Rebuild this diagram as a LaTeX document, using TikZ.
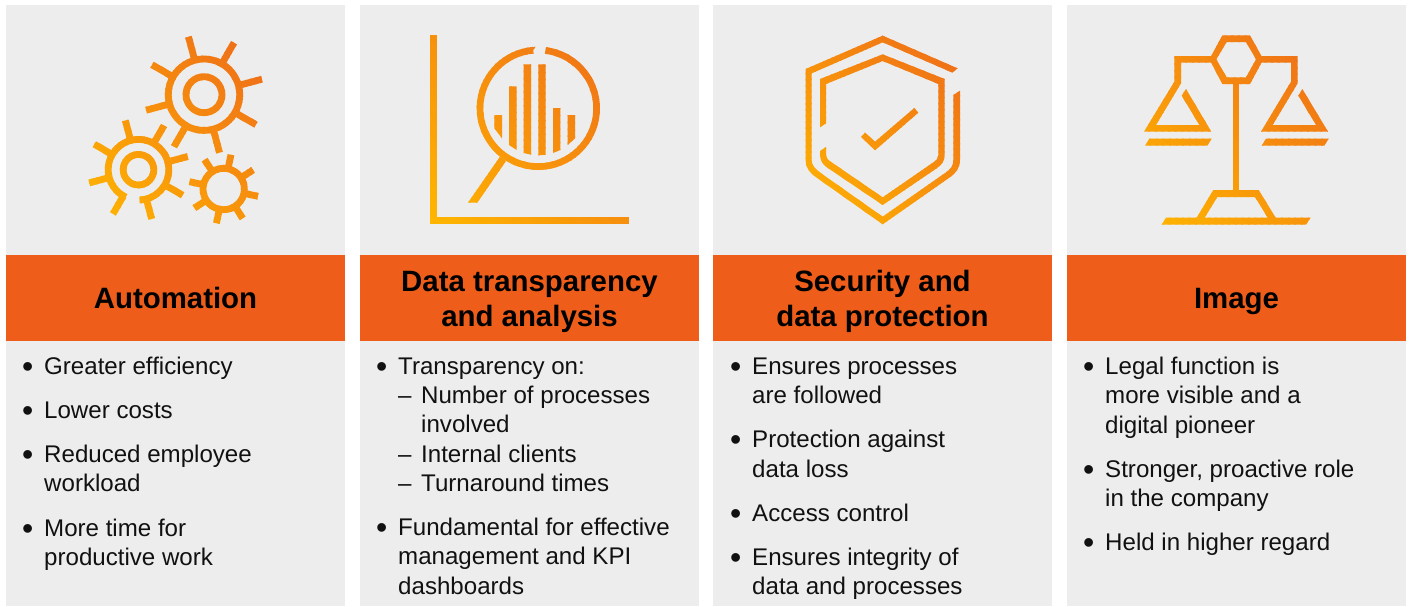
\documentclass[tikz,border=0pt]{standalone}
\usepackage{fontspec}
\setmainfont{Liberation Sans}
\definecolor{panelgray}{HTML}{EDEDED}
\definecolor{headorange}{HTML}{EE5E1A}
\definecolor{gradStart}{HTML}{FFB600}
\definecolor{gradEnd}{HTML}{EE6A1A}
\definecolor{inktext}{HTML}{111111}
\newcommand\nstrip{56}
\newcommand\gradicon[5]{%
 \foreach \k in {0,...,\nstrip}{%
  \pgfmathsetmacro\cW{(#3-#1+#4-#2)/(\nstrip+1)}%
  \pgfmathsetmacro\cA{#1-#4+\k*\cW}%
  \pgfmathsetmacro\cB{\cA+\cW+1.5}%
  \pgfmathsetmacro\pct{100*\k/\nstrip}%
  \colorlet{gradcol}{gradEnd!\pct!gradStart}%
  \begin{scope}
   \clip ({\cA+#2-20},{#2-20}) -- ({\cB+#2-20},{#2-20}) -- ({\cB+#4+20},{#4+20}) -- ({\cA+#4+20},{#4+20}) -- cycle;
   #5
  \end{scope}
 }%
}
\newcommand\gearb[7]{% cx cy ringR arcStart arcEnd tipR firstAngle
 \begin{scope}[shift={(#1,#2)},y=1pt]
  \draw[iconline] (#4:#3 pt) arc[start angle=#4,end angle=#5,radius=#3 pt];
  \foreach \a in {0,...,7}{%
   \pgfmathsetmacro\ang{#7+45*\a}%
   \draw[iconline] (\ang:#3 pt) -- (\ang:#6 pt);
  }%
 \end{scope}%
}
\newcommand\iconGears{%
 \gearb{204}{94.7}{35.7}{33}{420}{60}{15}
 \draw[iconline,shift={(204,94.7)}] (0,0) circle[radius=18pt];
 \gearb{138.5}{169.7}{30.3}{-88}{245}{51}{15}
 \draw[iconline,shift={(138.5,169.7)}] (0,0) circle[radius=15.3pt];
 \gearb{223.7}{189}{20.7}{0}{360}{35}{33}
}
\newcommand\iconChart{%
 \draw[iconline,line width=7pt] (433,35) -- (433,220.8) -- (629,220.8);
 \begin{scope}[shift={(538.3,108.3)},y=1pt]
  \draw[iconline,line width=6.7pt] (83:58.3pt) arc[start angle=83,end angle=-265,radius=58.3pt];
 \end{scope}
 \begin{scope}[shift={(420,25)},scale=1/3]
  \fill[gradcol] (347,65) -- (330,88) -- (320,70) -- cycle;
  \fill[gradcol] (144,533) -- (172,533) -- (258,408) -- (240,395) -- cycle;
  \fill[gradcol] (223,270) -- (246,270) -- (246,340) -- (223,310) -- cycle;
  \fill[gradcol] (267,184) -- (290,184) -- (290,375) -- (267,360) -- cycle;
  \fill[gradcol] (311,118) -- (333,118) -- (333,389) -- (311,384) -- cycle;
  \fill[gradcol] (355,118) -- (377,118) -- (377,389) -- (355,391) -- cycle;
  \fill[gradcol] (399,249) -- (421,249) -- (421,375) -- (399,384) -- cycle;
  \fill[gradcol] (443,270) -- (465,270) -- (465,340) -- (443,360) -- cycle;
 \end{scope}
}
\newcommand\iconShield{%
 \begin{scope}[shift={(790,25)},scale=1/3]
  \fill[gradcol] (503,130) -- (278,32) -- (47,132) -- (47,405) .. controls (47,430) and (60,445) .. (80,458) -- (278,598) -- (478,458) .. controls (497,445) and (510,430) .. (510,405) -- (510,197) -- (490,210) -- (490,405) .. controls (490,422) and (482,432) .. (468,442) -- (278,575) -- (92,444) .. controls (75,432) and (65,422) .. (65,405) -- (65,145) -- (278,52) -- (487,143) -- cycle;
  \fill[gradcol] (90,307) -- (90,162) -- (278,88) -- (464,162) -- (464,390) .. controls (464,408) and (455,420) .. (440,430) -- (278,540) -- (115,430) .. controls (100,420) and (90,408) .. (90,390) -- (90,378) -- (108,366) -- (108,390) .. controls (108,400) and (115,405) .. (125,412) -- (278,517) -- (430,412) .. controls (440,405) and (445,400) .. (445,390) -- (445,177) -- (278,108) -- (108,177) -- (108,295) -- cycle;
  \fill[gradcol] (213,336) -- (225,323) -- (255,350) -- (373,249) -- (385,263) -- (255,376) -- cycle;
 \end{scope}
}
\newcommand\iconScale{%
 \begin{scope}[shift={(1130,25)},scale=1/3]
  \fill[gradcol,even odd rule] (277,31) -- (360,31) -- (400,103) -- (360,177) -- (277,177) -- (238,103) -- cycle (290,51) -- (348,51) -- (378,103) -- (348,157) -- (290,157) -- (259,103) -- cycle;
  \fill[gradcol] (245,93) -- (133,93) -- (133,170) -- (42,320) -- (244,320) -- (168,192) -- (155,212) -- (208,300) -- (78,300) -- (153,175) -- (153,113) -- (250,113) -- cycle;
  \fill[gradcol] (395,93) -- (503,93) -- (503,175) -- (428,300) -- (558,300) -- (505,212) -- (517,192) -- (594,320) -- (393,320) -- (483,170) -- (483,113) -- (390,113) -- cycle;
  \fill[gradcol] (58,341) -- (245,341) -- (232,362) -- (45,362) -- cycle;
  \fill[gradcol] (408,341) -- (596,341) -- (583,362) -- (395,362) -- cycle;
  \fill[gradcol] (308,175) -- (328,175) -- (328,497) -- (308,497) -- cycle;
  \fill[gradcol,even odd rule] (250,495) -- (386,495) -- (437,578) -- (542,578) -- (528,599) -- (95,599) -- (108,578) -- (200,578) -- cycle (262,516) -- (375,516) -- (413,578) -- (224,578) -- cycle;
 \end{scope}
}
\newcommand\bul{\llap{\raisebox{-3pt}{\fontsize{32}{32}\selectfont •}\hspace{10.9pt}}}
\newcommand\dash{\makebox[23pt][l]{–}}
\newcommand\rows[1]{\begin{tabular}[t]{@{}l@{}}#1\end{tabular}}
\newcommand\crows[1]{\begin{tabular}[t]{@{}c@{}}#1\end{tabular}}
\tikzset{
 iconline/.style={draw=gradcol,line width=6.8pt},
 panel/.style={fill=panelgray},
 headband/.style={fill=headorange},
 item/.style={anchor=base west,inner sep=0pt,text=inktext,font=\fontsize{24.1}{29.4}\selectfont},
 title/.style={anchor=base,inner sep=0pt,text=black,font=\fontsize{29.4}{35}\selectfont\bfseries},
}
\begin{document}
\begin{tikzpicture}[x=1pt,y=-1pt]
\useasboundingbox (0,0) rectangle (1410,606);
\fill[white] (0,0) rectangle (1410,606);
\foreach \xa/\xb in {6/345,360/699,713/1052,1067/1406}{
 \fill[panel] (\xa,5) rectangle (\xb,606);
 \fill[headband] (\xa,255) rectangle (\xb,341);
}
\gradicon{88}{35}{263}{220}{\iconGears}
\gradicon{430}{35}{630}{225}{\iconChart}
\gradicon{805}{35}{960}{225}{\iconShield}
\gradicon{1143}{35}{1330}{225}{\iconScale}
% titles
\node[title] (t1) at (175.5,308.5) {Automation};
\node[title] (t2) at (529.5,291) {\crows{Data transparency\\and analysis}};
\node[title] (t3) at (882.5,291) {\crows{Security and\\data protection}};
\node[title] (t4) at (1236.5,308.5) {Image};
% column 1
\node[item] (a1) at (44,374.3) {\rows{\bul Greater efficiency}};
\node[item] (a2) at (44,418) {\rows{\bul Lower costs}};
\node[item] (a3) at (44,462) {\rows{\bul Reduced employee\\workload}};
\node[item] (a4) at (44,536) {\rows{\bul More time for\\productive work}};
% column 2
\node[item] (b1) at (398,374) {\rows{\bul Transparency on:\\\dash Number of processes\\\hspace*{23pt}involved\\\dash Internal clients\\\dash Turnaround times}};
\node[item] (b2) at (398,535.5) {\rows{\bul Fundamental for effective\\management and KPI\\dashboards}};
% column 3
\node[item] (c1) at (752,374.3) {\rows{\bul Ensures processes\\are followed}};
\node[item] (c2) at (752,447.7) {\rows{\bul Protection against\\data loss}};
\node[item] (c3) at (752,521) {\rows{\bul Access control}};
\node[item] (c4) at (752,565) {\rows{\bul Ensures integrity of\\data and processes}};
% column 4
\node[item] (d1) at (1105,374.3) {\rows{\bul Legal function is\\more visible and a\\digital pioneer}};
\node[item] (d2) at (1105,477) {\rows{\bul Stronger, proactive role\\in the company}};
\node[item] (d3) at (1105,550) {\rows{\bul Held in higher regard}};
\end{tikzpicture}
\end{document}
